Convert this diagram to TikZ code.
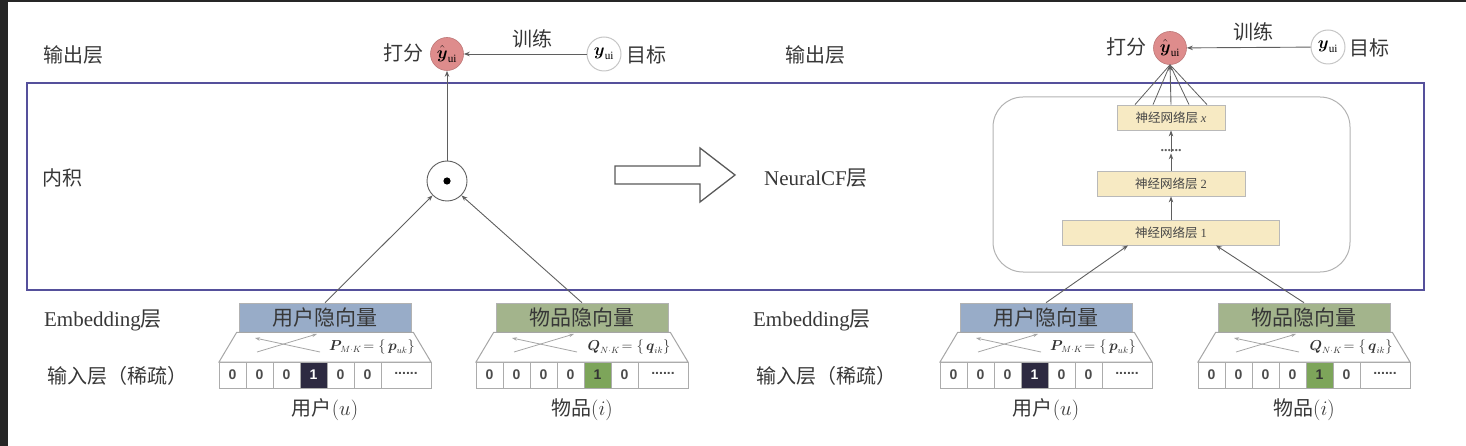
\documentclass[tikz,border=0pt]{standalone}
\usepackage{amsmath}
\usepackage{fontspec}
\setmainfont{Liberation Serif}
\newfontfamily\cjk{Noto Sans CJK SC}
\newfontfamily\sansdig{Liberation Sans}
\usetikzlibrary{arrows.meta,calc}
\definecolor{framec}{RGB}{85,80,155}
\definecolor{txtc}{RGB}{55,55,55}
\definecolor{userc}{RGB}{152,172,200}
\definecolor{itemc}{RGB}{163,180,140}
\definecolor{hotu}{RGB}{45,42,65}
\definecolor{hoti}{RGB}{125,165,90}
\definecolor{pinkc}{RGB}{222,140,140}
\definecolor{nnc}{RGB}{247,234,195}
\definecolor{linec}{RGB}{95,95,95}
\newcommand\embblock[9]{%
  \node[labbox, fill=#4] (#1lab) at (#2,317.5) {\cjk #3};
  \draw[trap] ($(#1lab.south west)+(-2,0)$) -- ($(#1lab.south east)+(2,0)$) -- (#2+106,362) -- (#2-106,362) -- cycle;
  \foreach \k in {1,...,6} {%
    \ifnum\k=#5
      \node[cell, fill=#6, text=#7] (#1c\k) at (#2-119.5+27*\k, 375) {1};
    \else
      \node[cell] (#1c\k) at (#2-119.5+27*\k, 375) {0};
    \fi
  }
  \node[cell, minimum width=50pt] (#1dots) at (#2+81,375) {\raisebox{0.3ex}{......}};
  \draw[xarr] (#2-5,352) -- (#2-70,338);
  \draw[xarr] (#2-68,352) -- (#2-8,334);
  \node[formula] (#1f) at (#2+47,347) {#8};
  \node[lbl] (#1cap) at (#2,410) {#9};
}
\begin{document}
\begin{tikzpicture}[x=1pt,y=-1pt,
  lbl/.style={font=\cjk\fontsize{20}{24}\selectfont, text=txtc, inner sep=0pt},
  serlbl/.style={font=\fontsize{21}{24}\selectfont, text=txtc, inner sep=0pt},
  labbox/.style={draw=gray!60, line width=0.6pt, minimum width=172pt, minimum height=29pt, inner sep=0pt,
    font=\fontsize{21}{24}\selectfont, text=txtc},
  trap/.style={draw=gray!70, line width=1pt, fill=white},
  cell/.style={draw=gray!65, line width=1pt, fill=white, minimum width=27pt, minimum height=26pt, inner sep=0pt,
    font=\sansdig\bfseries\fontsize{14}{15}\selectfont, text=gray!60!black},
  xarr/.style={draw=gray!70, line width=0.8pt, -{Stealth[length=5pt,width=3.5pt]}},
  formula/.style={font=\fontsize{13.5}{15}\selectfont, text=black!80, inner sep=0pt},
  arr/.style={draw=linec, line width=0.9pt, -{Stealth[length=6pt,width=4.5pt]}},
  nnbox/.style={draw=gray!55, fill=nnc, line width=0.8pt, minimum height=25pt, inner sep=0pt,
    font=\cjk\fontsize{12.5}{13}\selectfont, text=gray!55!black},
  yhat/.style={circle, fill=pinkc, draw=pinkc!85!black, line width=0.6pt, minimum size=33pt, inner sep=0pt,
    font=\fontsize{16}{17}\selectfont},
  ytar/.style={circle, draw=gray!45, line width=1pt, fill=white, minimum size=34pt, inner sep=0pt,
    font=\fontsize{16}{17}\selectfont}
]
\useasboundingbox (0,0) rectangle (1466,446);
\fill[black!85] (0,0) rectangle (8,446);
\fill[black!85] (0,0) rectangle (1466,2);

% main frame
\draw[framec, line width=2.8pt] (27,83) rectangle (1424,290);

% left labels
\node[lbl] (outL) at (73,55) {输出层};
\node[lbl] (inner) at (62,178) {内积};
\node[serlbl] (embL) at (103,320) {Embedding{\cjk 层}};
\node[lbl] (inL) at (117,376) {输入层（稀疏）};

% right labels
\node[lbl] (outR) at (815,55) {输出层};
\node[serlbl] (ncf) at (816,178) {NeuralCF{\cjk 层}};
\node[serlbl] (embR) at (812,320) {Embedding{\cjk 层}};
\node[lbl] (inR) at (826,376) {输入层（稀疏）};

% left top
\node[yhat] (yhatL) at (447,54) {$\hat{\boldsymbol{y}}_{\mathrm{ui}}$};
\node[lbl, anchor=east] (scoreL) at (424,53) {打分};
\node[ytar] (yL) at (604,54) {$\boldsymbol{y}_{\mathrm{ui}}$};
\node[lbl, anchor=west] (tgtL) at (626,55) {目标};
\node[lbl] (trainL) at (532,39) {训练};
\draw[arr] (yL) -- (yhatL);

% dot product
\node[circle, draw=linec, line width=0.9pt, minimum size=40pt, fill=white] (dot) at (447,181) {};
\fill[black] (dot.center) circle (3.6pt);
\draw[arr] (dot.north) -- (yhatL.south);

% hollow arrow
\draw[draw=gray!70!black, line width=1.3pt, fill=white, line join=miter]
  (615,166) -- (700,166) -- (700,148) -- (735,175) -- (700,202) -- (700,184) -- (615,184) -- cycle;

% right top
\node[yhat] (yhatR) at (1170,48) {$\hat{\boldsymbol{y}}_{\mathrm{ui}}$};
\node[lbl, anchor=east] (scoreR) at (1147,47) {打分};
\node[ytar] (yR) at (1328,47) {$\boldsymbol{y}_{\mathrm{ui}}$};
\node[lbl, anchor=west] (tgtR) at (1349,48) {目标};
\node[lbl] (trainR) at (1253,32) {训练};
\draw[arr] (yR) -- (yhatR);

% NeuralCF block
\draw[draw=gray!60, line width=1pt, rounded corners=30pt] (993,97) rectangle (1350,272);
\node[nnbox, minimum width=217pt] (nn1) at (1171,232.5) {神经网络层 {\rmfamily 1}};
\node[nnbox, minimum width=148pt] (nn2) at (1171,183.5) {神经网络层 {\rmfamily 2}};
\node[inner sep=1pt, font=\bfseries\fontsize{14}{14}\selectfont, text=linec] (nnd) at (1171,151) {......};
\node[nnbox, minimum width=108pt] (nnx) at (1171,117.5) {神经网络层 {\rmfamily\itshape x}};
\draw[arr] (nn1.north) -- (nn2.south);
\draw[arr] (nn2.north) -- (nnd.south);
\draw[arr] ($(nnd.north)+(0,3)$) -- (nnx.south);
\foreach \dx in {-36,-18,18,36} {
  \draw[linec, line width=0.8pt] ($(nnx.north)+(\dx,0)$) -- (yhatR.south);
}
\draw[arr] (nnx.north) -- (yhatR.south);

% embedding blocks
\embblock{uL}{325}{用户隐向量}{userc}{4}{hotu}{white}{$\boldsymbol{P}_{\!M\cdot K}\!=\{\,\boldsymbol{p}_{uk}\}$}{{\cjk 用户}$(u)$}
\embblock{iL}{582}{物品隐向量}{itemc}{5}{hoti}{black!80}{$\boldsymbol{Q}_{N\cdot K}\!=\{\,\boldsymbol{q}_{ik}\}$}{{\cjk 物品}$(i)$}
\embblock{uR}{1046}{用户隐向量}{userc}{4}{hotu}{white}{$\boldsymbol{P}_{\!M\cdot K}\!=\{\,\boldsymbol{p}_{uk}\}$}{{\cjk 用户}$(u)$}
\embblock{iR}{1304}{物品隐向量}{itemc}{5}{hoti}{black!80}{$\boldsymbol{Q}_{N\cdot K}\!=\{\,\boldsymbol{q}_{ik}\}$}{{\cjk 物品}$(i)$}

% connectors from embeddings
\draw[arr] (uLlab.north) -- (dot.south west);
\draw[arr] (iLlab.north) -- (dot.south east);
\draw[arr] (uRlab.north) -- ($(nn1.south)+(-43,0)$);
\draw[arr] (iRlab.north) -- ($(nn1.south)+(45,0)$);
\end{tikzpicture}
\end{document}
